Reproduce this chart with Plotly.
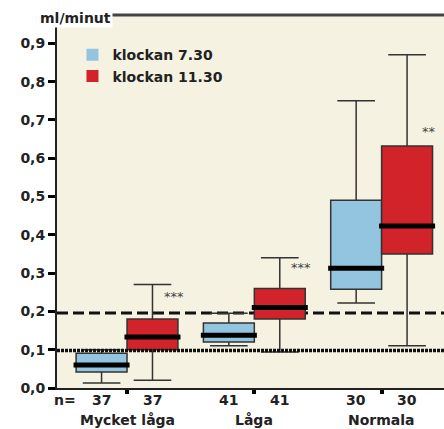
import plotly.graph_objects as go

groups = ["Mycket låga", "Låga", "Normala"]
series_names = ["klockan 7.30", "klockan 11.30"]
colors = ["#93C5E0", "#D2232A"]

# box statistics per series (one value per group)
q1 = [[0.042, 0.12, 0.258], [0.10, 0.18, 0.35]]
median = [[0.06, 0.138, 0.313], [0.133, 0.21, 0.423]]
q3 = [[0.091, 0.17, 0.49], [0.18, 0.26, 0.632]]
lowf = [[0.013, 0.11, 0.222], [0.02, 0.094, 0.11]]
upf = [[0.10, 0.195, 0.75], [0.27, 0.34, 0.87]]
n_values = [[37, 41, 30], [37, 41, 30]]
stars = ["***", "***", "**"]
star_y = [0.24, 0.315, 0.67]
ref_dashed = 0.196
ref_dotted = 0.098

offsets = [-0.2, 0.2]
bw = 0.4
FONT = "DejaVu Sans"
TXT = "#222222"
fig = go.Figure()

for s in range(2):
    xs = [g + offsets[s] for g in range(len(groups))]
    fig.add_trace(go.Box(
        x=xs, q1=q1[s], median=median[s], q3=q3[s],
        lowerfence=lowf[s], upperfence=upf[s],
        width=bw, whiskerwidth=0.74, fillcolor=colors[s],
        line=dict(color="#333333", width=1.5),
        showlegend=False, hoverinfo="skip", boxpoints=False))
for s in range(2):
    mx, my = [], []
    for g in range(len(groups)):
        c = g + offsets[s]
        mx += [c - 0.22, c + 0.22, None]
        my += [median[s][g], median[s][g], None]
    fig.add_trace(go.Scatter(x=mx, y=my, mode="lines",
                             line=dict(color="black", width=5),
                             showlegend=False, hoverinfo="skip"))
for s in range(2):
    fig.add_trace(go.Scatter(x=[None], y=[None], mode="markers", name=series_names[s],
                             marker=dict(symbol="square", size=11, color=colors[s])))

# reference lines
fig.add_shape(type="line", xref="paper", yref="y", x0=0, x1=1, y0=ref_dashed, y1=ref_dashed,
              line=dict(color="#111111", width=3, dash="11px,5px"), layer="below")
fig.add_shape(type="line", xref="paper", yref="y", x0=0, x1=1, y0=ref_dotted, y1=ref_dotted,
              line=dict(color="#111111", width=3.5, dash="3px,1px"), layer="above")
# top frame line
fig.add_shape(type="line", xref="paper", yref="paper", x0=0, x1=1, y0=1, y1=1,
              line=dict(color="#444444", width=3))

ann = []
for g in range(len(groups)):
    ann.append(dict(x=g + offsets[1] + 0.17, y=star_y[g], xref="x", yref="y", text=stars[g],
                    showarrow=False, yanchor="middle",
                    font=dict(size=13, color="#444444", family=FONT)))
    ann.append(dict(x=g, y=-0.086, xref="x", yref="paper", text="<b>%s</b>" % groups[g],
                    showarrow=False, yanchor="middle",
                    font=dict(size=14, color=TXT, family=FONT)))
    for s in range(2):
        ann.append(dict(x=g + offsets[s], y=-0.032, xref="x", yref="paper",
                        text="<b>%d</b>" % n_values[s][g], showarrow=False, yanchor="middle",
                        font=dict(size=14, color=TXT, family=FONT)))
ann.append(dict(x=-0.49, y=-0.032, xref="x", yref="paper", text="<b>n=</b>", showarrow=False,
                yanchor="middle", font=dict(size=14, color=TXT, family=FONT)))
ann.append(dict(x=-0.05, y=1.0, xref="paper", yref="paper", text="<b>ml/minut</b>",
                showarrow=False, xanchor="left", yanchor="middle", bgcolor="white", yshift=-3,
                font=dict(size=14, color=TXT, family=FONT)))

fig.update_layout(
    width=444, height=429,
    margin=dict(l=57, r=0, t=15, b=41),
    paper_bgcolor="white", plot_bgcolor="#F5F2E2",
    separators=", ",
    annotations=ann,
    legend=dict(x=0.04, y=0.935, xanchor="left", yanchor="top", bgcolor="rgba(0,0,0,0)",
                font=dict(size=14, color=TXT, family=FONT, weight="bold"),
                itemsizing="constant", tracegroupgap=0, itemwidth=30),
    xaxis=dict(range=[-0.55, 2.49], showgrid=False, zeroline=False,
               showline=True, linecolor="#222222", linewidth=2,
               tickmode="array", tickvals=[0, 1, 2], ticktext=["", "", ""],
               ticks="outside", ticklen=4, tickwidth=4, tickcolor="black"),
    yaxis=dict(range=[0, 0.974], showgrid=False, zeroline=False,
               showline=True, linecolor="#222222", linewidth=2,
               tickvals=[0, 0.1, 0.2, 0.3, 0.4, 0.5, 0.6, 0.7, 0.8, 0.9],
               tickformat=".1f", ticks="outside", ticklen=7, tickwidth=3, tickcolor="black",
               tickfont=dict(size=14, color=TXT, family=FONT, weight="bold")),
)
fig.write_html("out.html", config={"displayModeBar": False},
               post_script="document.body.style.margin='0';document.body.style.overflow='hidden';")
